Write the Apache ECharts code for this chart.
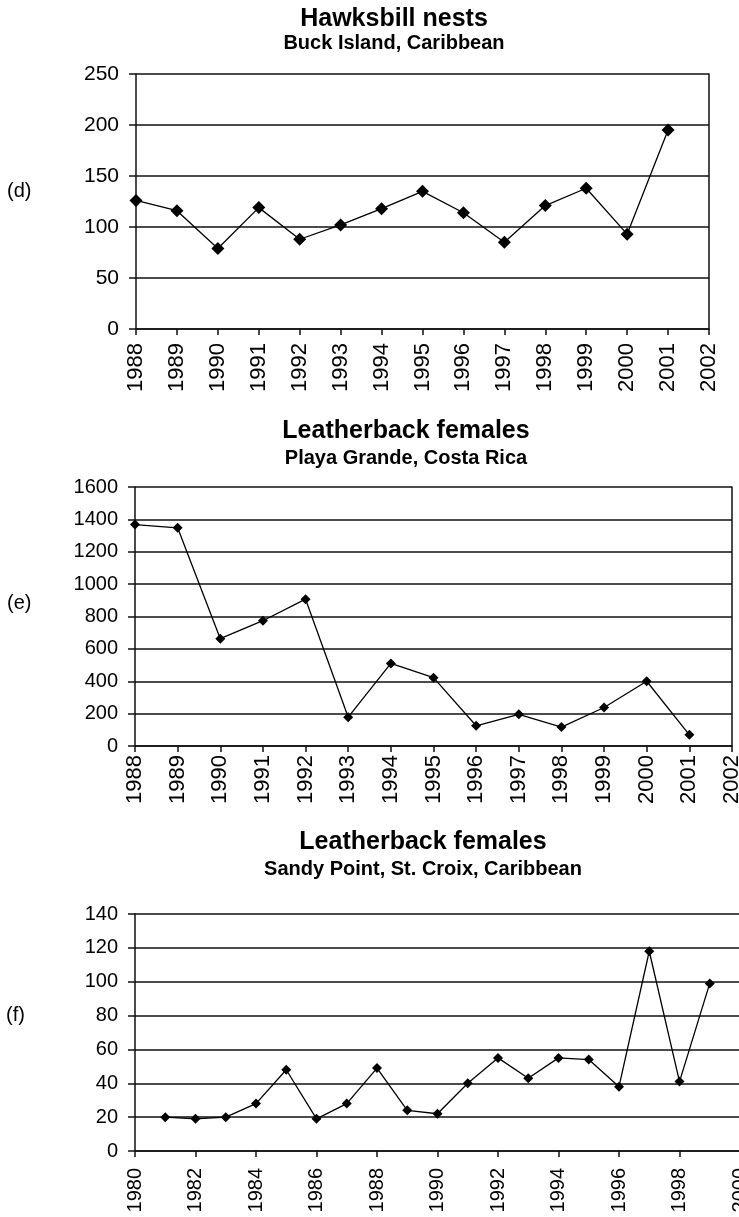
<!DOCTYPE html>
<html>
<head>
<meta charset="utf-8">
<script src="https://cdn.jsdelivr.net/npm/echarts@6/dist/echarts.min.js"></script>
<style>
  html, body { margin: 0; padding: 0; background: #fff; }
  body { width: 739px; height: 1217px; position: relative; overflow: hidden; }
  .panel { position: absolute; left: 0; width: 739px; overflow: hidden; }
</style>
</head>
<body>
<div id="panelD" class="panel" style="top:0;height:392px"></div>
<div id="panelE" class="panel" style="top:392px;height:418px"></div>
<div id="panelF" class="panel" style="top:810px;height:407px"></div>
<script>
// Hawksbill nests, Buck Island
const yearsD = ['1988','1989','1990','1991','1992','1993','1994','1995','1996','1997','1998','1999','2000','2001','2002'];
const hawksbillNests = [126, 116, 79, 119, 88, 102, 118, 135, 114, 85, 121, 138, 93, 195, null];
const ticksD = [0, 50, 100, 150, 200, 250];

// Leatherback females, Playa Grande
const yearsE = ['1988','1989','1990','1991','1992','1993','1994','1995','1996','1997','1998','1999','2000','2001','2002'];
const playaGrandeFemales = [1368, 1348, 663, 774, 907, 178, 510, 422, 125, 196, 117, 238, 400, 69, null];
const ticksE = [0, 200, 400, 600, 800, 1000, 1200, 1400, 1600];

// Leatherback females, Sandy Point
const yearsF = ['1980','1981','1982','1983','1984','1985','1986','1987','1988','1989','1990',
                '1991','1992','1993','1994','1995','1996','1997','1998','1999','2000'];
const sandyPointFemales = [null, 20, 19, 20, 28, 48, 19, 28, 49, 24, 22, 40, 55, 43, 55, 54, 38, 118, 41, 99, null];
const ticksF = [0, 20, 40, 60, 80, 100, 120, 140];

const FONT = '"Liberation Sans", Arial, Helvetica, sans-serif';
const INK = '#111';

function drawPanel(el, p) {
  const chart = echarts.init(el, null, { renderer: 'canvas', width: 739, height: el.clientHeight });
  const yMin = p.ticks[0], yMax = p.ticks[p.ticks.length - 1], yStep = p.ticks[1] - p.ticks[0];
  const yAxes = [{
    type: 'value', min: yMin, max: yMax, interval: yStep,
    axisLine: { show: true, lineStyle: { color: INK, width: 1.5 } },
    axisTick: { show: true, length: 7, lineStyle: { color: INK, width: 1.5 } },
    axisLabel: { color: '#000', fontFamily: FONT, fontSize: p.yFont, margin: 17, formatter: v => String(v) },
    splitLine: { show: true, lineStyle: { color: INK, width: 1.5 } }
  }];
  if (p.rightBorder) {
    yAxes.push({
      type: 'value', position: 'right', min: yMin, max: yMax, interval: yStep,
      axisLine: { show: true, lineStyle: { color: INK, width: 1.5 } },
      axisTick: { show: false }, axisLabel: { show: false }, splitLine: { show: false }
    });
  }
  chart.setOption({
    animation: false,
    backgroundColor: '#fff',
    grid: Object.assign({ containLabel: false, outerBoundsMode: 'none' }, p.grid),
    xAxis: {
      type: 'category', data: p.years, boundaryGap: false,
      axisLine: { show: true, lineStyle: { color: INK, width: 1.5 } },
      axisTick: { show: true, length: 6, interval: p.every, lineStyle: { color: INK, width: 1.5 } },
      axisLabel: { rotate: 90, interval: p.every, color: '#000', fontFamily: FONT, fontSize: p.xFont, margin: p.xMargin, hideOverlap: false },
      splitLine: { show: false }
    },
    yAxis: yAxes,
    series: [{
      type: 'line', data: p.values, yAxisIndex: 0,
      symbol: 'diamond', symbolSize: p.marker, showAllSymbol: true,
      itemStyle: { color: '#000' },
      lineStyle: { color: '#000', width: 1.3 },
      emphasis: { disabled: true }
    }],
    graphic: [
      { type: 'text', x: p.titleX, y: p.titleY,
        style: { text: p.title, fontFamily: FONT, fontWeight: 'bold', fontSize: 25, fill: '#000', align: 'center', verticalAlign: 'middle' } },
      { type: 'text', x: p.titleX, y: p.subY,
        style: { text: p.subtitle, fontFamily: FONT, fontWeight: 'bold', fontSize: 20, fill: '#000', align: 'center', verticalAlign: 'middle' } },
      { type: 'text', x: p.tagX, y: p.tagY,
        style: { text: p.tag, fontFamily: FONT, fontSize: 20, fill: '#000', align: 'left', verticalAlign: 'middle' } }
    ]
  });
}

drawPanel(document.getElementById('panelD'), {
  years: yearsD, values: hawksbillNests, ticks: ticksD, every: 0,
  grid: { left: 136, right: 30, top: 74, bottom: 63 },
  rightBorder: true, marker: 13, yFont: 21, xFont: 22, xMargin: 14,
  title: 'Hawksbill nests', subtitle: 'Buck Island, Caribbean',
  titleX: 394, titleY: 19, subY: 43, tag: '(d)', tagX: 7, tagY: 191
});

drawPanel(document.getElementById('panelE'), {
  years: yearsE, values: playaGrandeFemales, ticks: ticksE, every: 0,
  grid: { left: 135, right: 7, top: 95, bottom: 64 },
  rightBorder: true, marker: 10, yFont: 20, xFont: 22, xMargin: 9,
  title: 'Leatherback females', subtitle: 'Playa Grande, Costa Rica',
  titleX: 406, titleY: 39.5, subY: 66.5, tag: '(e)', tagX: 7, tagY: 211
});

drawPanel(document.getElementById('panelF'), {
  years: yearsF, values: sandyPointFemales, ticks: ticksF, every: 1,
  grid: { left: 135, width: 605, top: 104, bottom: 66 },
  rightBorder: false, marker: 10, yFont: 20, xFont: 20, xMargin: 17,
  title: 'Leatherback females', subtitle: 'Sandy Point, St. Croix, Caribbean',
  titleX: 423, titleY: 32, subY: 59.5, tag: '(f)', tagX: 6, tagY: 205
});
</script>
</body>
</html>
